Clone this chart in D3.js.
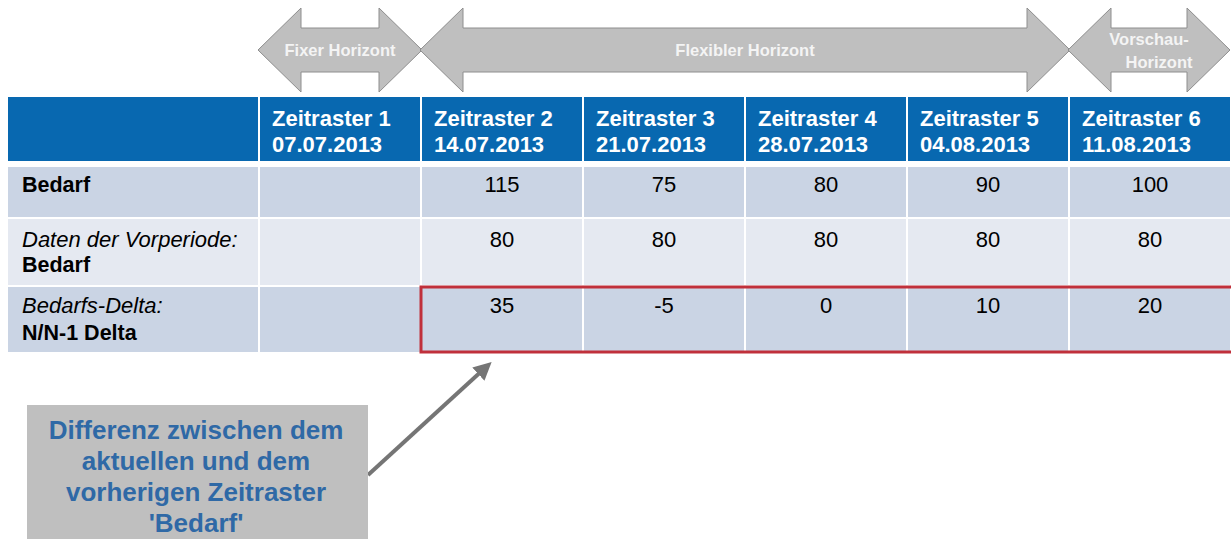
<!DOCTYPE html>
<html><head><meta charset="utf-8">
<script src="https://cdn.jsdelivr.net/npm/d3@7"></script>
<style>html,body{margin:0;padding:0;background:#fff;overflow:hidden}svg{display:block}</style>
</head><body>
<svg id="chart" width="1231" height="539"></svg>
<script>
// ---- data ----
const periods = ["Zeitraster 1","Zeitraster 2","Zeitraster 3","Zeitraster 4","Zeitraster 5","Zeitraster 6"];
const dates = ["07.07.2013","14.07.2013","21.07.2013","28.07.2013","04.08.2013","11.08.2013"];
const bedarf = [null,115,75,80,90,100];
const vorperiode = [null,80,80,80,80,80];
const delta = [null,35,-5,0,10,20];
const rowLabels = [
  [{t:"Bedarf",s:"bold"}],
  [{t:"Daten der Vorperiode:",s:"italic"},{t:"Bedarf",s:"bold"}],
  [{t:"Bedarfs-Delta:",s:"italic"},{t:"N/N-1 Delta",s:"bold"}]
];
const horizons = [
  {label:["Fixer Horizont"], from:0, to:0},
  {label:["Flexibler Horizont"], from:1, to:4},
  {label:["Vorschau-","Horizont"], from:5, to:5}
];
const calloutText = ["Differenz zwischen dem","aktuellen und dem","vorherigen Zeitraster","'Bedarf'"];
const highlightFrom = 1;

// ---- layout ----
const svg = d3.select("#chart");
const font = "'Liberation Sans', Arial, sans-serif";
const x = d3.scaleBand().domain(d3.range(periods.length)).range([259, 1231]).paddingInner(0);
const labelX0 = 8;
const rows = [
  {y0:97, y1:161, fill:"#0868b0"},
  {y0:167, y1:217, fill:"#cad4e4", vals:bedarf},
  {y0:219, y1:285, fill:"#e5e9f1", vals:vorperiode},
  {y0:287, y1:352, fill:"#cad4e4", vals:delta}
];

// horizon arrows
const arrowG = svg.append("g");
const cy = 50, headH = 42, shaftH = 22, headL = 43;
horizons.forEach(h => {
  const l = x(h.from) - 1, r = Math.min(x(h.to) + x.bandwidth() + 1, 1230);
  const pts = [[l,cy],[l+headL,cy-headH],[l+headL,cy-shaftH],[r-headL,cy-shaftH],[r-headL,cy-headH],[r,cy],
               [r-headL,cy+headH],[r-headL,cy+shaftH],[l+headL,cy+shaftH],[l+headL,cy+headH]];
  arrowG.append("polygon").attr("points", pts.map(p=>p.join(",")).join(" "))
    .attr("fill","#bfbfbf").attr("stroke","#8e8e8e").attr("stroke-width",1);
  const cx = (l+r)/2;
  const lh = 23;
  h.label.forEach((t,i)=>{
    let xx = cx;
    if (h.label.length>1) { xx = i===0 ? cx : cx+10; }
    arrowG.append("text").attr("x", xx).attr("y", cy + 6 + (i-(h.label.length-1)/2)*lh)
      .attr("text-anchor","middle").attr("font-family",font).attr("font-weight","bold")
      .attr("font-size",16.5).attr("fill","#f4f4f4").text(t);
  });
});

// table cells
const tab = svg.append("g");
rows.forEach((row,ri)=>{
  tab.append("rect").attr("x",labelX0).attr("y",row.y0).attr("width",259-1-labelX0).attr("height",row.y1-row.y0).attr("fill",row.fill);
  periods.forEach((p,ci)=>{
    tab.append("rect").attr("x",x(ci)+1).attr("y",row.y0)
      .attr("width",x.bandwidth()-2).attr("height",row.y1-row.y0).attr("fill",row.fill);
  });
});

// header text
periods.forEach((p,ci)=>{
  const tx = x(ci)+13;
  tab.append("text").attr("x",tx).attr("y",126).attr("font-family",font).attr("font-weight","bold")
    .attr("font-size",22).attr("fill","#fff").text(p);
  tab.append("text").attr("x",tx).attr("y",152).attr("font-family",font).attr("font-weight","bold")
    .attr("font-size",22).attr("fill","#fff").text(dates[ci]);
});

// row labels
const labelBase = [[192],[247,272],[313,340]];
rowLabels.forEach((lines,ri)=>{
  lines.forEach((ln,li)=>{
    tab.append("text").attr("x",22).attr("y",labelBase[ri][li]).attr("font-family",font)
      .attr("font-size",ln.s==="italic"?22:21.5).attr("fill","#000")
      .attr("font-weight", ln.s==="bold"?"bold":"normal")
      .attr("font-style", ln.s==="italic"?"italic":"normal").text(ln.t);
  });
});

// values
const valBase = [192,247,313];
rows.slice(1).forEach((row,ri)=>{
  row.vals.forEach((v,ci)=>{
    if (v===null) return;
    tab.append("text").attr("x",x(ci)+x.bandwidth()/2).attr("y",valBase[ri]).attr("text-anchor","middle")
      .attr("font-family",font).attr("font-size",22).attr("fill","#000").text(v);
  });
});

// highlight box
const r3 = rows[3];
svg.append("rect").attr("x",x(highlightFrom)).attr("y",r3.y0).attr("width",1233-x(highlightFrom)).attr("height",r3.y1-r3.y0)
  .attr("fill","none").attr("stroke","#c0303b").attr("stroke-width",3);

// callout arrow
svg.append("defs").append("marker").attr("id","ah").attr("viewBox","0 0 10 10").attr("refX",5).attr("refY",5)
  .attr("markerWidth",4.5).attr("markerHeight",4.5).attr("orient","auto")
  .append("path").attr("d","M0,0 L10,5 L0,10 z").attr("fill","#757575");
svg.append("line").attr("x1",368).attr("y1",475).attr("x2",485).attr("y2",368)
  .attr("stroke","#757575").attr("stroke-width",4).attr("marker-end","url(#ah)");

// callout box
svg.append("rect").attr("x",27).attr("y",405).attr("width",341).attr("height",140).attr("fill","#bfbfbf");
calloutText.forEach((t,i)=>{
  svg.append("text").attr("x",196).attr("y",439+i*31).attr("text-anchor","middle")
    .attr("font-family",font).attr("font-weight","bold").attr("font-size",26)
    .attr("fill","#2f69a6").text(t);
});
</script>
</body></html>
